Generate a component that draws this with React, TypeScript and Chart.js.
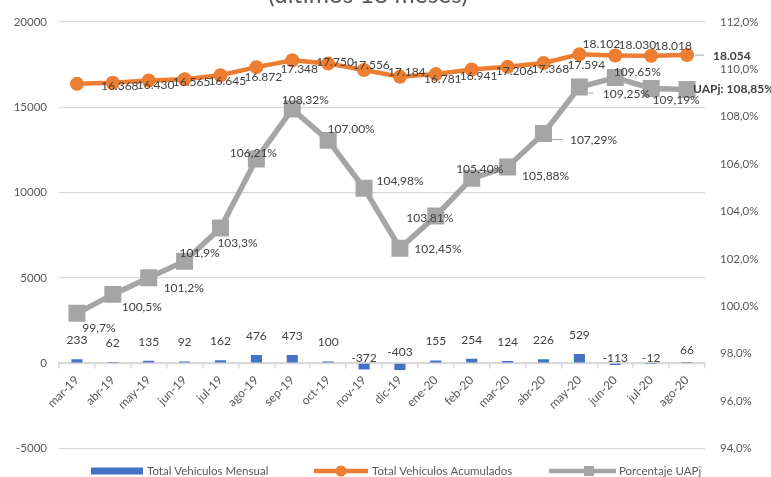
import React, { useEffect, useRef } from 'react';
import { Chart, registerables } from 'chart.js';

Chart.register(...registerables);

const titleText = '(últimos 18 meses)';
const months = ['mar-19', 'abr-19', 'may-19', 'jun-19', 'jul-19', 'ago-19', 'sep-19', 'oct-19', 'nov-19', 'dic-19', 'ene-20', 'feb-20', 'mar-20', 'abr-20', 'may-20', 'jun-20', 'jul-20', 'ago-20'];
const monthly = [233, 62, 135, 92, 162, 476, 473, 100, -372, -403, 155, 254, 124, 226, 529, -113, -12, 66];
const cumulative = [16368, 16430, 16565, 16645, 16872, 17348, 17750, 17556, 17184, 16781, 16941, 17206, 17368, 17594, 18102, 18030, 18018, 18054];
const uapj = [99.7, 100.5, 101.2, 101.9, 103.3, 106.21, 108.32, 107.0, 104.98, 102.45, 103.81, 105.4, 105.88, 107.29, 109.25, 109.65, 109.19, 109.15];
const uapjLabels = ['99,7%', '100,5%', '101,2%', '101,9%', '103,3%', '106,21%', '108,32%', '107,00%', '104,98%', '102,45%', '103,81%', '105,40%', '105,88%', '107,29%', '109,25%', '109,65%', '109,19%', 'UAPj: 108,85%'];
const leftMin = -5000, leftMax = 20000, leftStep = 5000;
const rightMin = 94, rightMax = 112, rightStep = 2;
const legendLabels = ['Total Vehículos Mensual', 'Total Vehículos Acumulados', 'Porcentaje UAPj'];

// label placement (offsets relative to the drawn point, in px)
const pctOffsets = [[22, 15], [29, 13], [35, 10], [15, -8], [17, 15], [-3, -6], [13, -9], [23, -11], [36, -7], [38, 1], [-6, 2], [8, -9], [38, 9], [50, 7], [47, 7], [22, -5], [25, 12], [6, 0]];
const barLabelShift = [0, 0, 0, 0, 0, 0, 0, 0, 0, -6, 0, 0, 0, 0, 0, 0, 0, 7];

const FONT = 'Lato';
const BLUE = '#4472C4';
const ORANGE = '#ED7D31';
const GRAY = '#A5A5A5';
const TEXT = '#595959';
const LABEL = '#404040';

const fmtThousands = (v: number) => String(v).replace(/\B(?=(\d{3})+(?!\d))/g, '.');

const customPlugin = {
  id: 'customDraw',
  afterDatasetsDraw(chart: any) {
    const ctx = chart.ctx;
    ctx.save();
    const barMeta = chart.getDatasetMeta(0);
    const cumMeta = chart.getDatasetMeta(1);
    const pctMeta = chart.getDatasetMeta(2);
    const zeroY = chart.scales.y.getPixelForValue(0);

    ctx.font = `12px ${FONT}`;
    ctx.fillStyle = LABEL;
    ctx.textBaseline = 'middle';

    // bar labels
    ctx.textAlign = 'center';
    monthly.forEach((v, i) => {
      const el = barMeta.data[i];
      const y = v >= 0 ? el.y - 19 : zeroY - 5;
      ctx.fillText(String(v), el.x, y + barLabelShift[i]);
    });

    // cumulative labels
    cumulative.forEach((v, i) => {
      const el = cumMeta.data[i];
      const txt = fmtThousands(v);
      const last = i === cumulative.length - 1;
      if (i >= 14 && !last) {
        ctx.textAlign = 'center';
        ctx.font = `12px ${FONT}`;
        ctx.fillText(txt, el.x + 22, el.y - 10);
      } else if (last) {
        ctx.strokeStyle = GRAY;
        ctx.lineWidth = 1;
        ctx.beginPath();
        ctx.moveTo(el.x + 8, el.y);
        ctx.lineTo(el.x + 17, el.y);
        ctx.stroke();
        ctx.textAlign = 'left';
        ctx.font = `bold 12px ${FONT}`;
        ctx.fillText(txt, el.x + 26, el.y + 1);
        ctx.font = `12px ${FONT}`;
      } else {
        ctx.textAlign = 'left';
        ctx.fillText(txt, el.x + 24, el.y + 2);
      }
    });

    // percentage labels
    uapjLabels.forEach((t, i) => {
      const el = pctMeta.data[i];
      const [dx, dy] = pctOffsets[i];
      if (i === uapjLabels.length - 1) {
        ctx.textAlign = 'left';
        ctx.font = `bold 12px ${FONT}`;
        ctx.fillText(t, el.x + dx, el.y + dy);
        ctx.font = `12px ${FONT}`;
        return;
      }
      if (i === 13 || i === 14) {
        ctx.strokeStyle = GRAY;
        ctx.lineWidth = 1;
        ctx.beginPath();
        ctx.moveTo(el.x + 9, el.y + dy - 1);
        ctx.lineTo(el.x + (i === 13 ? 19 : 14), el.y + dy - 1);
        ctx.stroke();
      }
      ctx.textAlign = 'center';
      ctx.fillText(t, el.x + dx, el.y + dy);
    });
    ctx.restore();
  },
  afterDraw(chart: any) {
    const ctx = chart.ctx;
    ctx.save();
    // title (cut at the top edge)
    ctx.font = `20px ${FONT}`;
    const w = ctx.measureText(titleText).width;
    const size = (20 * 200) / w;
    ctx.font = `${size}px ${FONT}`;
    ctx.fillStyle = TEXT;
    ctx.textAlign = 'center';
    ctx.textBaseline = 'alphabetic';
    ctx.fillText(titleText, 368, 3);

    // legend
    const ly = 471;
    ctx.font = `11.5px ${FONT}`;
    ctx.textBaseline = 'middle';
    ctx.textAlign = 'left';
    ctx.fillStyle = BLUE;
    ctx.fillRect(91, ly - 3.5, 52, 7);
    ctx.fillStyle = TEXT;
    ctx.fillText(legendLabels[0], 147, ly);

    ctx.strokeStyle = ORANGE;
    ctx.lineWidth = 4.5;
    ctx.beginPath();
    ctx.moveTo(314, ly);
    ctx.lineTo(368, ly);
    ctx.stroke();
    ctx.fillStyle = ORANGE;
    ctx.beginPath();
    ctx.arc(341, ly, 5.5, 0, Math.PI * 2);
    ctx.fill();
    ctx.fillStyle = TEXT;
    ctx.fillText(legendLabels[1], 372, ly);

    ctx.strokeStyle = GRAY;
    ctx.beginPath();
    ctx.moveTo(549, ly);
    ctx.lineTo(616, ly);
    ctx.stroke();
    ctx.fillStyle = GRAY;
    ctx.fillRect(584, ly - 5, 10, 10);
    ctx.fillStyle = TEXT;
    ctx.fillText(legendLabels[2], 619, ly);
    ctx.restore();
  },
};

export default function App() {
  const ref = useRef<HTMLCanvasElement>(null);
  useEffect(() => {
    if (!ref.current) return;
    const chart = new Chart(ref.current, {
      type: 'bar',
      data: {
        labels: months,
        datasets: [
          {
            type: 'bar',
            label: legendLabels[0],
            data: monthly,
            backgroundColor: BLUE,
            yAxisID: 'y',
            order: 2,
            barPercentage: 0.31,
            categoryPercentage: 1,
          },
          {
            type: 'line',
            label: legendLabels[1],
            data: cumulative,
            borderColor: ORANGE,
            backgroundColor: ORANGE,
            borderWidth: 4.5,
            pointRadius: 7,
            pointBackgroundColor: ORANGE,
            pointBorderWidth: 0,
            tension: 0,
            yAxisID: 'y',
            order: 0,
          },
          {
            type: 'line',
            label: legendLabels[2],
            data: uapj,
            borderColor: GRAY,
            backgroundColor: GRAY,
            borderWidth: 5.5,
            pointStyle: 'rect',
            pointRadius: 12,
            pointBackgroundColor: GRAY,
            pointBorderWidth: 0,
            tension: 0,
            yAxisID: 'y1',
            order: 1,
          },
        ] as any,
      },
      options: {
        responsive: false,
        animation: false,
        devicePixelRatio: 1,
        layout: { padding: { top: 20.5, bottom: 28.6, left: 0, right: 0 } },
        plugins: {
          legend: { display: false },
          tooltip: { enabled: false },
          title: { display: false },
        },
        scales: {
          x: {
            position: { y: 0 } as any,
            offset: true,
            grid: {
              display: true,
              drawOnChartArea: false,
              drawTicks: true,
              tickLength: 5,
              color: '#D9D9D9',
              lineWidth: 1.5,
              offset: true,
            },
            border: { display: true, color: '#D9D9D9', width: 1.5 },
            ticks: {
              color: TEXT,
              font: { family: FONT, size: 12 },
              maxRotation: 45,
              minRotation: 45,
              autoSkip: false,
              padding: 5,
            },
          },
          y: {
            position: 'left',
            min: leftMin,
            max: leftMax,
            afterFit: (s: any) => { s.width = 59; },
            grid: { color: '#D9D9D9', lineWidth: 1.2, drawTicks: false },
            border: { display: false },
            ticks: {
              stepSize: leftStep,
              padding: 12,
              color: TEXT,
              font: { family: FONT, size: 11.5 },
              callback: (v: any) => String(v),
            },
          },
          y1: {
            position: 'right',
            min: rightMin,
            max: rightMax,
            afterFit: (s: any) => { s.width = 66; },
            grid: { drawOnChartArea: false, drawTicks: false },
            border: { display: false },
            ticks: {
              stepSize: rightStep,
              padding: 15,
              color: TEXT,
              font: { family: FONT, size: 11.5 },
              callback: (v: any) => Number(v).toFixed(1).replace('.', ',') + '%',
            },
          },
        },
      },
      plugins: [customPlugin],
    });
    return () => chart.destroy();
  }, []);

  return (
    <div style={{ position: 'fixed', left: 0, top: 0, width: 771, height: 477, background: '#fff' }}>
      <canvas ref={ref} width={771} height={477} style={{ display: 'block' }} />
    </div>
  );
}
